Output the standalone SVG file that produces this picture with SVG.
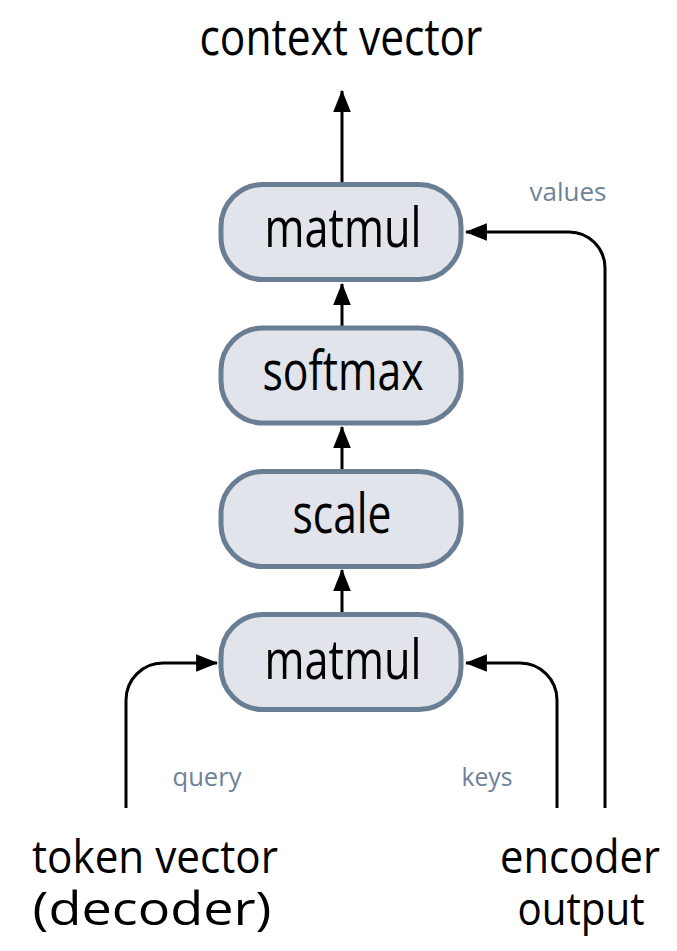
<svg xmlns="http://www.w3.org/2000/svg" width="677" height="951" viewBox="0 0 677 951">
  <style>
    .box { fill: #e1e4ea; stroke: #697e93; stroke-width: 5; }
    .lbl { font-family: "Open Sans", "Noto Sans", sans-serif; fill: #000; text-anchor: middle; }
    .node { font-size: 54px; }
    .title { font-size: 52px; }
    .io { font-size: 46px; }
    .side { font-family: "Open Sans", "Noto Sans", sans-serif; font-size: 26px; fill: #6e8297; text-anchor: middle; }
    .wire { fill: none; stroke: #000; stroke-width: 3; }
  </style>
  <defs>
    <marker id="head" markerUnits="userSpaceOnUse" markerWidth="22" markerHeight="18" viewBox="0 0 20 16" refX="19" refY="8" orient="auto">
      <path d="M0,0 L20,8 L0,16 z" fill="#000"/>
    </marker>
  </defs>

  <rect width="677" height="951" fill="#fff"/>

  <!-- connectors -->
  <g id="connectors">
    <path class="wire" d="M342,183 V91" marker-end="url(#head)"/>
    <path class="wire" d="M342,328 V284" marker-end="url(#head)"/>
    <path class="wire" d="M342,471 V427" marker-end="url(#head)"/>
    <path class="wire" d="M342,614 V570" marker-end="url(#head)"/>
    <path class="wire" d="M126,808 V700 A37,37 0 0 1 163,663 H217" marker-end="url(#head)"/>
    <path class="wire" d="M557,808 V700 A37,37 0 0 0 520,663 H466" marker-end="url(#head)"/>
    <path class="wire" d="M605,808 V268 A36,36 0 0 0 569,232 H466" marker-end="url(#head)"/>
  </g>

  <!-- nodes -->
  <g id="matmul-out">
    <rect class="box" x="221" y="184.5" width="240" height="95" rx="42"/>
    <text class="lbl node" x="343" y="247" textLength="157" lengthAdjust="spacingAndGlyphs">matmul</text>
  </g>
  <g id="softmax">
    <rect class="box" x="221" y="328" width="240" height="95" rx="42"/>
    <text class="lbl node" x="343" y="390" textLength="161" lengthAdjust="spacingAndGlyphs">softmax</text>
  </g>
  <g id="scale">
    <rect class="box" x="221" y="471.5" width="240" height="95" rx="42"/>
    <text class="lbl node" x="342" y="533" textLength="99" lengthAdjust="spacingAndGlyphs">scale</text>
  </g>
  <g id="matmul-in">
    <rect class="box" x="221" y="614.5" width="240" height="95" rx="42"/>
    <text class="lbl node" x="343" y="679" textLength="157" lengthAdjust="spacingAndGlyphs">matmul</text>
  </g>

  <g id="context-vector">
    <text class="lbl title" x="341" y="55" textLength="283" lengthAdjust="spacingAndGlyphs">context vector</text>
  </g>
  <g id="token-vector">
    <text class="lbl io" x="155" y="873" textLength="246" lengthAdjust="spacingAndGlyphs">token vector</text>
    <text class="lbl io" x="152" y="925" textLength="239" lengthAdjust="spacingAndGlyphs">(decoder)</text>
  </g>
  <g id="encoder-output">
    <text class="lbl io" x="580" y="873" textLength="160" lengthAdjust="spacingAndGlyphs">encoder</text>
    <text class="lbl io" x="581" y="925" textLength="127" lengthAdjust="spacingAndGlyphs">output</text>
  </g>

  <!-- edge labels -->
  <text class="side" x="207" y="786" textLength="69" lengthAdjust="spacingAndGlyphs">query</text>
  <text class="side" x="487" y="786" textLength="51" lengthAdjust="spacingAndGlyphs">keys</text>
  <text class="side" x="568" y="201" textLength="77" lengthAdjust="spacingAndGlyphs">values</text>
</svg>
